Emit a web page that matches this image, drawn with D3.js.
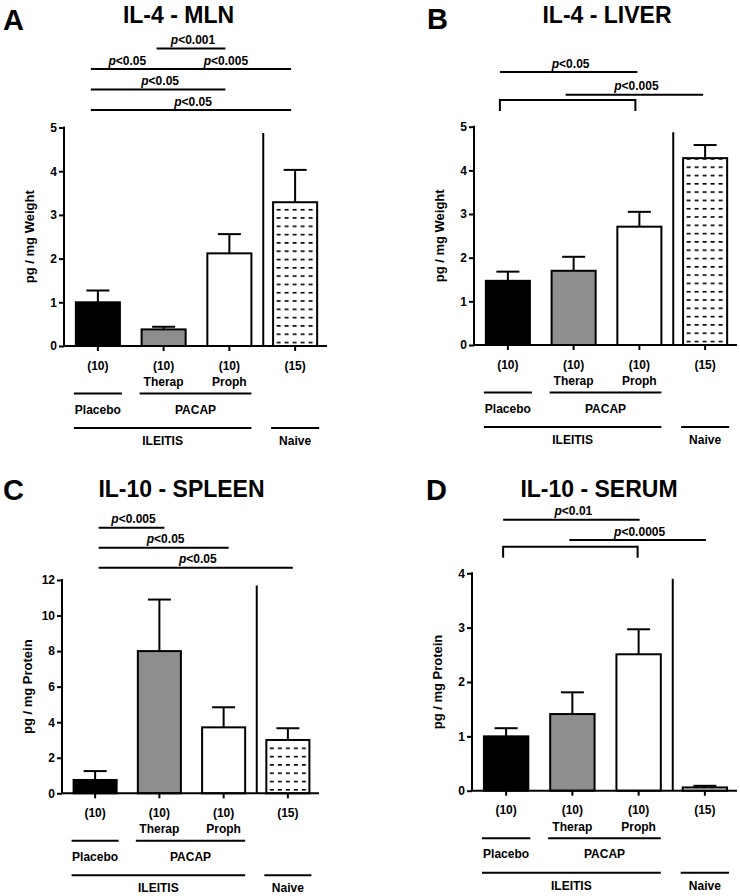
<!DOCTYPE html>
<html>
<head>
<meta charset="utf-8">
<script src="https://cdn.jsdelivr.net/npm/d3@7"></script>
<style>
  html, body { margin: 0; padding: 0; background: #fff; }
  svg text { font-family: "Liberation Sans", Arial, Helvetica, sans-serif; font-weight: bold; fill: #000; }
</style>
</head>
<body>
<svg id="chart" width="740" height="896"></svg>
<script>
// ---------------- DATA ----------------
const groups = ["Placebo", "Therap", "Proph", "Naive"];
const sampleSizes = ["(10)", "(10)", "(10)", "(15)"];
const subLabels = ["", "Therap", "Proph", ""];
const panelLetters = ["A", "B", "C", "D"];
const panelTitles = ["IL-4 - MLN", "IL-4 - LIVER", "IL-10 - SPLEEN", "IL-10 - SERUM"];
const yLabels = ["pg / mg Weight", "pg / mg Weight", "pg / mg Protein", "pg / mg Protein"];
const yMaxes = [5, 5, 12, 4];
const ticksA = [0, 1, 2, 3, 4, 5];
const ticksB = [0, 1, 2, 3, 4, 5];
const ticksC = [0, 2, 4, 6, 8, 10, 12];
const ticksD = [0, 1, 2, 3, 4];

const meansA = [1.00, 0.38, 2.12, 3.29];
const semA   = [0.27, 0.06, 0.44, 0.74];
const meansB = [1.47, 1.70, 2.71, 4.28];
const semB   = [0.21, 0.32, 0.34, 0.30];
const meansC = [0.75, 8.00, 3.71, 3.00];
const semC   = [0.50, 2.90, 1.13, 0.66];
const meansD = [1.00, 1.41, 2.51, 0.06];
const semD   = [0.15, 0.40, 0.46, 0.03];

// comparisons: [from group, to group, p label, row]
const sigA = [[1, 2, "<0.001", 0], [0, 1, "<0.05", 1], [1, 3, "<0.005", 1], [0, 2, "<0.05", 2], [0, 3, "<0.05", 3]];
const sigB = [[0, 2, "<0.05", 0], [1, 3, "<0.005", 1]];
const sigC = [[0, 1, "<0.005", 0], [0, 2, "<0.05", 1], [0, 3, "<0.05", 2]];
const sigD = [[0, 2, "<0.01", 0], [1, 3, "<0.0005", 1]];
const bracketB = [0, 2];
const bracketD = [0, 2];

// group headers under the axis: [label, first group, last group, level]
const headerRows = [["Placebo", 0, 0, 0], ["PACAP", 1, 2, 0], ["ILEITIS", 0, 2, 1], ["Naive", 3, 3, 1]];

const fills = ["#000000", "#8e8e8e", "#ffffff", "pattern"];

// ---------------- LAYOUT ----------------
const layouts = [
  { left: 64,  right: 327, y0: 346,   yTop: 127.5, letterX: 3,   letterY: 29.5, titleX: 178.5, titleY: 23,
    sigY0: 48.5, sigStep: 20.5, sx0: -7, sx1: -4, bracketY: null },
  { left: 474, right: 737, y0: 345,   yTop: 126.7, letterX: 427, letterY: 28.5, titleX: 607,   titleY: 23,
    sigY0: 72,   sigStep: 22.7, sx0: -8, sx1: -2, bracketY: 100 },
  { left: 62,  right: 319, y0: 793.3, yTop: 580,   letterX: 3,   letterY: 500,  titleX: 181.5, titleY: 497,
    sigY0: 527.7, sigStep: 20, sx0: 3.5, sx1: 5, bracketY: null },
  { left: 472, right: 737, y0: 790.7, yTop: 573.3, letterX: 426, letterY: 500,  titleX: 599,   titleY: 497,
    sigY0: 519.7, sigStep: 20.3, sx0: -3, sx1: 1, bracketY: 546.7 }
];

const panels = [
  { means: meansA, sem: semA, ticks: ticksA, sig: sigA, bracket: null },
  { means: meansB, sem: semB, ticks: ticksB, sig: sigB, bracket: bracketB },
  { means: meansC, sem: semC, ticks: ticksC, sig: sigC, bracket: null },
  { means: meansD, sem: semD, ticks: ticksD, sig: sigD, bracket: bracketD }
];

const svg = d3.select("#chart");
const defs = svg.append("defs");

panels.forEach((p, i) => {
  const L = layouts[i];
  const g = svg.append("g");
  const x = d3.scaleBand().domain(groups).range([L.left + 1, L.right + 1]);
  const bw = x.bandwidth() * 0.67;
  const cx = k => x(groups[k]) + x.bandwidth() / 2;
  const y = d3.scaleLinear().domain([0, yMaxes[i]]).range([L.y0, L.yTop]);

  // pattern for Naive bars
  const patId = "pat" + i;
  const pat = defs.append("pattern").attr("id", patId)
    .attr("patternUnits", "userSpaceOnUse")
    .attr("x", cx(3) - bw / 2 + 3.5).attr("y", L.y0 - 4.3)
    .attr("width", 8).attr("height", 8.3);
  pat.append("rect").attr("width", 8).attr("height", 8.3).attr("fill", "#fff");
  pat.append("rect").attr("x", 0).attr("y", 0).attr("width", 4).attr("height", 1.6).attr("fill", "#000");

  // letter and title
  g.append("text").attr("x", L.letterX).attr("y", L.letterY).style("font-size", "29px").text(panelLetters[i]);
  g.append("text").attr("x", L.titleX).attr("y", L.titleY).attr("text-anchor", "middle")
    .style("font-size", "23px").text(panelTitles[i]);

  // bars
  g.selectAll("rect.bar").data(groups).enter().append("rect")
    .attr("class", "bar")
    .attr("x", d => x(d) + (x.bandwidth() - bw) / 2)
    .attr("width", bw)
    .attr("y", (d, k) => y(p.means[k]))
    .attr("height", (d, k) => L.y0 - y(p.means[k]))
    .attr("fill", (d, k) => fills[k] === "pattern" ? `url(#${patId})` : fills[k])
    .attr("stroke", "#000").attr("stroke-width", 2);

  // error bars
  const capW = 23;
  groups.forEach((d, k) => {
    const top = y(p.means[k] + p.sem[k]);
    g.append("line").attr("x1", cx(k)).attr("x2", cx(k)).attr("y1", y(p.means[k])).attr("y2", top)
      .attr("stroke", "#000").attr("stroke-width", 2);
    g.append("line").attr("x1", cx(k) - capW / 2).attr("x2", cx(k) + capW / 2).attr("y1", top).attr("y2", top)
      .attr("stroke", "#000").attr("stroke-width", 2);
  });

  // separator line
  const sepX = x(groups[3]) + 1;
  g.append("line").attr("x1", sepX).attr("x2", sepX).attr("y1", L.y0).attr("y2", y(yMaxes[i]) + 5.5)
    .attr("stroke", "#000").attr("stroke-width", 2);

  // y axis
  const yAxis = d3.axisLeft(y).tickValues(p.ticks).tickFormat(d3.format("d"))
    .tickSize(5).tickSizeOuter(0).tickPadding(2);
  const ya = g.append("g").attr("transform", `translate(${L.left},0)`).call(yAxis);
  ya.select(".domain").remove();
  ya.selectAll(".tick line").attr("stroke", "#000").attr("stroke-width", 2);
  ya.selectAll(".tick text").style("font-size", "12px").style("font-family", "Liberation Sans, Arial, sans-serif")
    .style("font-weight", "bold").attr("fill", "#000");
  g.append("line").attr("x1", L.left).attr("x2", L.left).attr("y1", L.y0).attr("y2", L.yTop - 1)
    .attr("stroke", "#000").attr("stroke-width", 2);

  // x axis
  g.append("line").attr("x1", L.left - 1).attr("x2", L.right).attr("y1", L.y0).attr("y2", L.y0)
    .attr("stroke", "#000").attr("stroke-width", 2);
  groups.forEach((d, k) => {
    g.append("line").attr("x1", cx(k)).attr("x2", cx(k)).attr("y1", L.y0).attr("y2", L.y0 + 5)
      .attr("stroke", "#000").attr("stroke-width", 2);
  });

  // y label
  g.append("text")
    .attr("transform", `translate(${L.left - 30},${(L.y0 + L.yTop) / 2}) rotate(-90)`)
    .attr("text-anchor", "middle").style("font-size", "13px").text(yLabels[i]);

  // sample sizes and sub labels
  groups.forEach((d, k) => {
    g.append("text").attr("x", cx(k)).attr("y", L.y0 + 23.5).attr("text-anchor", "middle")
      .style("font-size", "12px").text(sampleSizes[k]);
    if (subLabels[k]) g.append("text").attr("x", cx(k)).attr("y", L.y0 + 40).attr("text-anchor", "middle")
      .style("font-size", "12px").text(subLabels[k]);
  });

  // header rows
  headerRows.forEach(([label, a, b, lvl]) => {
    const x1 = x(groups[a]) + (x.bandwidth() - bw) / 2 - 2;
    const x2 = x(groups[b]) + (x.bandwidth() + bw) / 2 + (a === b ? 2 : 0);
    const ly = L.y0 + (lvl === 0 ? 47.5 : 82);
    g.append("line").attr("x1", x1).attr("x2", x2).attr("y1", ly).attr("y2", ly)
      .attr("stroke", "#000").attr("stroke-width", 2);
    g.append("text").attr("x", (x1 + x2) / 2).attr("y", ly + (lvl === 0 ? 20 : 17)).attr("text-anchor", "middle")
      .style("font-size", "12px").text(label);
  });

  // significance lines
  p.sig.forEach(([a, b, lab, row]) => {
    const x1 = cx(a) + L.sx0, x2 = cx(b) + L.sx1;
    const ly = L.sigY0 + row * L.sigStep;
    g.append("line").attr("x1", x1).attr("x2", x2).attr("y1", ly).attr("y2", ly)
      .attr("stroke", "#000").attr("stroke-width", 2);
    const t = g.append("text").attr("x", (x1 + x2) / 2 + 2).attr("y", ly - 4.5).attr("text-anchor", "middle")
      .style("font-size", "12px");
    t.append("tspan").style("font-style", "italic").text("p");
    t.append("tspan").text(lab);
  });

  // bracket
  if (p.bracket) {
    const x1 = cx(p.bracket[0]) + L.sx0, x2 = cx(p.bracket[1]) + L.sx1 - 2;
    const by = L.bracketY;
    g.append("path").attr("d", `M${x1},${by + 11}V${by}H${x2}V${by + 11}`)
      .attr("fill", "none").attr("stroke", "#000").attr("stroke-width", 2);
  }
});
</script>
</body>
</html>
